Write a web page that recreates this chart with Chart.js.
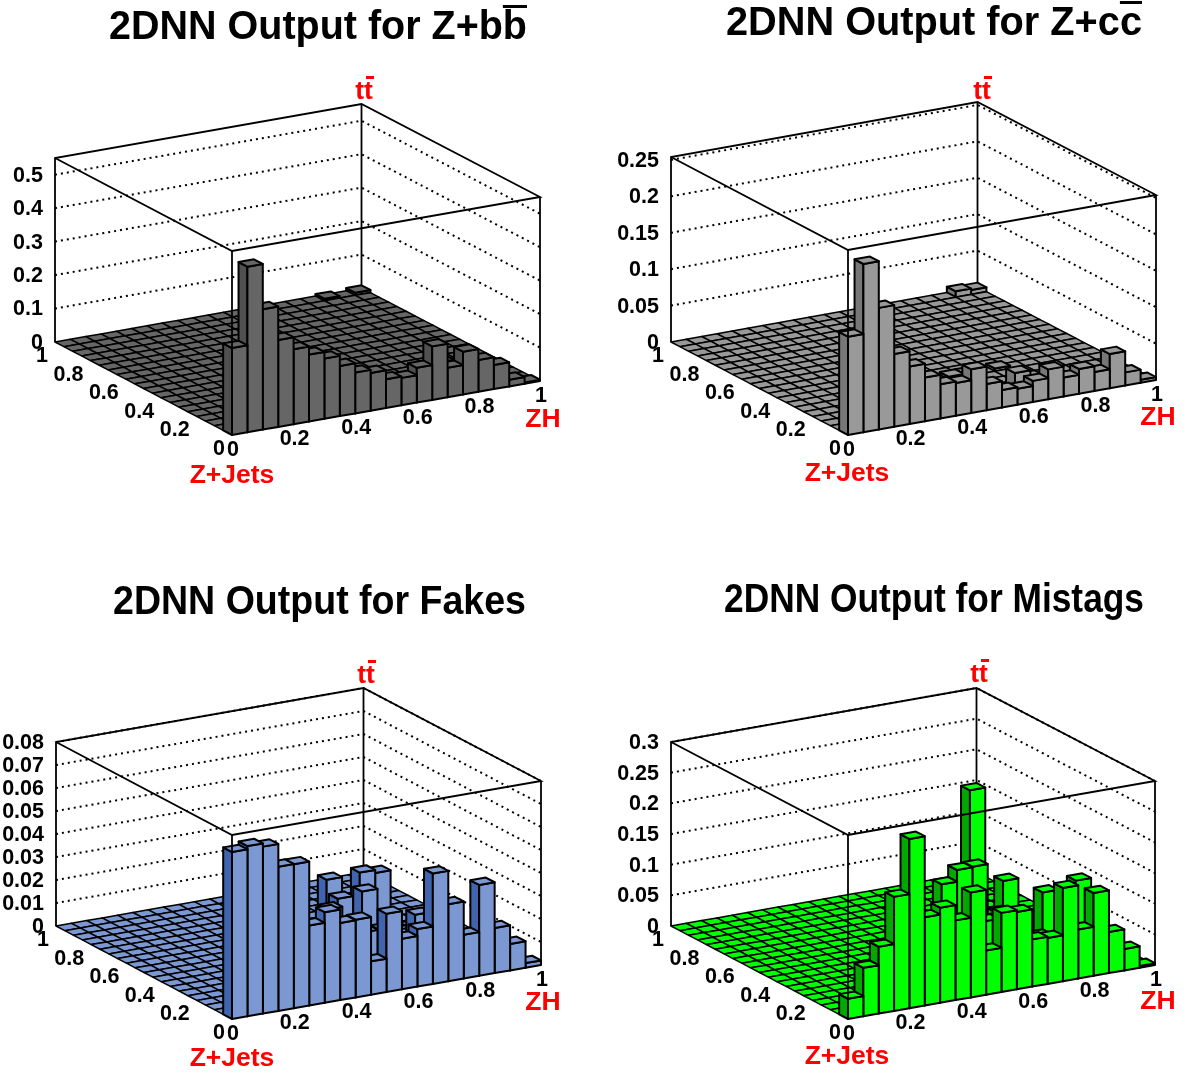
<!DOCTYPE html>
<html>
<head>
<meta charset="utf-8">
<title>2DNN Output</title>
<style>
  html, body { margin: 0; padding: 0; background: #fff; }
  #page { position: relative; width: 1188px; height: 1074px; overflow: hidden; }
  canvas { position: absolute; }
</style>
<script src="https://cdn.jsdelivr.net/npm/chart.js@4"></script>
</head>
<body>
<div id="page">
  <canvas id="bb" width="594" height="537" style="left:0;top:0"></canvas>
  <canvas id="cc" width="594" height="537" style="left:594px;top:0"></canvas>
  <canvas id="fakes" width="594" height="537" style="left:0;top:537px"></canvas>
  <canvas id="mistags" width="594" height="537" style="left:594px;top:537px"></canvas>
</div>
<script>
// tick labels
var xyTicks = [0, 0.2, 0.4, 0.6, 0.8, 1];
var bbZTicks = [0, 0.1, 0.2, 0.3, 0.4, 0.5];
var ccZTicks = [0, 0.05, 0.1, 0.15, 0.2, 0.25];
var fakesZTicks = [0, 0.01, 0.02, 0.03, 0.04, 0.05, 0.06, 0.07, 0.08];
var mistagsZTicks = [0, 0.05, 0.1, 0.15, 0.2, 0.25, 0.3];

// front row of bins (Z+Jets output = 0..0.05), left to right along ZH
var bbFront = [0.26, 0.495, 0.36, 0.26, 0.224, 0.2, 0.18, 0.15, 0.122, 0.113, 0.086, 0.082, 0.104, 0.16, 0.088, 0.128, 0.095, 0.072, 0.02, 0.004];
var ccFront = [0.135, 0.231, 0.167, 0.1, 0.079, 0.06, 0.047, 0.045, 0.06, 0.036, 0.024, 0.022, 0.029, 0.041, 0.026, 0.034, 0.026, 0.047, 0.018, 0.004];
var fakesFront = [0.0726, 0.074, 0.0726, 0.0627, 0.0626, 0.0348, 0.0394, 0.0335, 0.0338, 0.0145, 0.034, 0.022, 0.025, 0.048, 0.0335, 0.019, 0.0395, 0.0196, 0.0115, 0.002];
var mistagsFront = [0.033, 0.079, 0.109, 0.186, 0.276, 0.144, 0.155, 0.13, 0.171, 0.072, 0.129, 0.126, 0.077, 0.075, 0.152, 0.08, 0.135, 0.067, 0.035, 0.003];

// other filled bins as [ZH bin, Z+Jets bin, height]
var bbBack = [[14, 1, 0.09], [19, 19, 0.008], [17, 19, 0.006]];
var ccBack = [[12, 2, 0.027], [18, 19, 0.008], [19, 19, 0.006], [10, 6, 0.004], [11, 6, 0.004], [13, 6, 0.004]];
var fakesBack = [[13, 12, 0.021], [14, 10, 0.027], [15, 10, 0.0257], [13, 8, 0.024], [12, 9, 0.02], [9, 5, 0.027], [13, 2, 0.026],
  [10, 6, 0.012], [11, 6, 0.01], [11, 4, 0.016], [12, 5, 0.014], [10, 3, 0.02], [6, 3, 0.012], [7, 4, 0.014], [8, 5, 0.012], [7, 2, 0.02],
  [9, 2, 0.012], [10, 8, 0.009], [14, 7, 0.008], [15, 7, 0.006], [16, 8, 0.005], [14, 5, 0.01], [15, 5, 0.007], [11, 8, 0.012], [5, 1, 0.02],
  [6, 1, 0.018], [8, 2, 0.02], [9, 1, 0.025]];
var mistagsBack = [[12, 7, 0.267], [11, 5, 0.162], [10, 5, 0.161], [9, 5, 0.142], [13, 5, 0.13], [15, 4, 0.11], [16, 2, 0.14],
  [10, 2, 0.1], [11, 3, 0.09], [12, 4, 0.09], [9, 2, 0.09], [7, 2, 0.1], [6, 3, 0.1], [8, 3, 0.08], [13, 3, 0.05], [14, 3, 0.05], [12, 2, 0.06],
  [13, 7, 0.03], [14, 7, 0.02], [12, 9, 0.02], [11, 8, 0.03], [10, 8, 0.03]];

var nBins = 20;

var makeHeights = function (front, back) {
  var heights = [];
  for (var j = 0; j < nBins; j++) {
    var row = [];
    for (var i = 0; i < nBins; i++) {
      row.push(j === 0 ? front[i] : 0);
    }
    heights.push(row);
  }
  back.forEach(function (b) { heights[b[1]][b[0]] = b[2]; });
  return heights;
};

// pixel size of the box inside each canvas, top and side colours
var panels = [
  { id: "bb", title: "2DNN Output for Z+bb", titleX: 109, titleY: 39, titleW: 418, heights: makeHeights(bbFront, bbBack), zTicks: bbZTicks, zMax: 0.55,
    origin: [232, 435], ex: [308, -54], ey: [-177, -93], ez: 184, light: "#666666", dark: "#505050", tt: [364, 99], jets: [232, 483], zh: [543, 427] },
  { id: "cc", title: "2DNN Output for Z+cc", titleX: 132, titleY: 35, titleW: 416, heights: makeHeights(ccFront, ccBack), zTicks: ccZTicks, zMax: 0.254,
    origin: [254, 435], ex: [308, -55], ey: [-177, -93], ez: 185, light: "#999999", dark: "#777777", tt: [388, 99], jets: [253, 481], zh: [564, 425] },
  { id: "fakes", title: "2DNN Output for Fakes", titleX: 113, titleY: 77, titleW: 413, heights: makeHeights(fakesFront, fakesBack), zTicks: fakesZTicks, zMax: 0.08,
    origin: [232, 482], ex: [309, -54], ey: [-176, -93], ez: 184, light: "#7b98d3", dark: "#4064ad", tt: [366, 146], jets: [232, 529], zh: [543, 473] },
  { id: "mistags", title: "2DNN Output for Mistags", titleX: 130, titleY: 75, titleW: 420, heights: makeHeights(mistagsFront, mistagsBack), zTicks: mistagsZTicks, zMax: 0.3,
    origin: [254, 482], ex: [307, -54], ey: [-177, -93], ez: 184, light: "#00ff00", dark: "#00a800", tt: [385, 145], jets: [253, 527], zh: [564, 472] }
];

// the original view has a slight perspective: the far corner sits a little to the left
var project = function (p, u, v, z) {
  return {
    x: p.origin[0] + u * p.ex[0] + v * p.ey[0] - 1.5 * u * v,
    y: p.origin[1] + u * p.ex[1] + v * p.ey[1] - z / p.zMax * p.ez
  };
};

var polygon = function (p, corners, color, width) {
  var pts = corners.map(function (c) { return project(p, c[0], c[1], c[2]); });
  pts.push(pts[0]);
  return { data: pts, showLine: true, fill: "shape", backgroundColor: color, borderColor: "#000", borderWidth: width, pointRadius: 0, borderJoinStyle: "round" };
};

var line = function (p, corners, dash, width) {
  return {
    data: corners.map(function (c) { return project(p, c[0], c[1], c[2]); }),
    showLine: true, fill: false, borderColor: "#000", borderWidth: width || 1.8, pointRadius: 0, borderDash: dash || []
  };
};

var buildDatasets = function (p) {
  var list = [];
  var top = p.zMax;
  // dotted grid on the two back walls
  p.zTicks.forEach(function (z) {
    if (z > 0) list.push(line(p, [[0, 1, z], [1, 1, z], [1, 0, z]], [2, 4], 2));
  });
  list.push(line(p, [[1, 1, 0], [1, 1, top]]));
  // bars, far corner first so the nearer ones cover them
  var w = 1 / nBins;
  for (var j = nBins - 1; j >= 0; j--) {
    for (var i = nBins - 1; i >= 0; i--) {
      var h = p.heights[j][i];
      var u0 = i * w, u1 = (i + 1) * w, v0 = j * w, v1 = (j + 1) * w;
      if (h > 0) {
        list.push(polygon(p, [[u0, v0, 0], [u0, v1, 0], [u0, v1, h], [u0, v0, h]], p.dark, 2));
        list.push(polygon(p, [[u0, v0, 0], [u1, v0, 0], [u1, v0, h], [u0, v0, h]], p.light, 2));
      }
      list.push(polygon(p, [[u0, v0, h], [u1, v0, h], [u1, v1, h], [u0, v1, h]], p.light, h > 0 ? 2 : 1.5));
    }
  }
  // box edges in front
  list.push(line(p, [[0, 1, 0], [0, 1, top], [1, 1, top], [1, 0, top], [0, 0, top], [0, 1, top]]));
  list.push(line(p, [[0, 0, 0], [0, 0, top]]));
  list.push(line(p, [[1, 0, 0], [1, 0, top]]));
  // Chart.js paints the first dataset last
  return list.reverse();
};

var labelsPlugin = {
  id: "legoLabels",
  afterDraw: function (chart) {
    var p = chart.options.plugins.legoLabels.panel;
    var ctx = chart.ctx;
    var sx = chart.scales.x, sy = chart.scales.y;
    var px = function (q) { return { x: sx.getPixelForValue(q.x), y: sy.getPixelForValue(q.y) }; };
    ctx.save();
    ctx.fillStyle = "#000";

    // title, with the bar over the last letter for the bb and cc samples
    ctx.font = "bold 40px 'Liberation Sans'";
    ctx.textAlign = "left";
    ctx.textBaseline = "alphabetic";
    ctx.fillText(p.title, p.titleX, p.titleY, p.titleW);
    if (p.id === "bb" || p.id === "cc") {
      var last = ctx.measureText(p.title.slice(-1)).width * p.titleW / ctx.measureText(p.title).width;
      ctx.fillRect(p.titleX + p.titleW - last, p.titleY - 34, last, 3);
    }

    ctx.font = "bold 21.5px 'Liberation Sans'";
    ctx.textBaseline = "middle";
    ctx.textAlign = "center";
    xyTicks.forEach(function (t) {
      var q = px(project(p, t, 0, 0));
      ctx.fillText(String(t), q.x + 1, q.y + 15);
    });
    ctx.textAlign = "right";
    xyTicks.forEach(function (t) {
      var q = px(project(p, 0, t, 0));
      ctx.fillText(String(t), q.x - 7, q.y + 14);
    });
    p.zTicks.forEach(function (t) {
      var q = px(project(p, 0, 1, t));
      ctx.fillText(String(t), q.x - 12, q.y + 1);
    });

    // red axis names
    ctx.fillStyle = "#ff0000";
    ctx.font = "bold 26.5px 'Liberation Sans'";
    ctx.textBaseline = "alphabetic";
    ctx.textAlign = "center";
    ctx.fillText("Z+Jets", p.jets[0], p.jets[1]);
    ctx.fillText("ZH", p.zh[0], p.zh[1]);
    ctx.fillText("tt", p.tt[0], p.tt[1]);
    ctx.fillRect(p.tt[0] + 2, p.tt[1] - 23, 8, 3);
    ctx.restore();
  }
};

panels.forEach(function (p) {
  new Chart(document.getElementById(p.id), {
    type: "scatter",
    data: { datasets: buildDatasets(p) },
    plugins: [labelsPlugin],
    options: {
      responsive: false,
      animation: false,
      events: [],
      parsing: false,
      layout: { padding: 0 },
      scales: {
        x: { type: "linear", min: 0, max: 594, display: false },
        y: { type: "linear", min: 0, max: 537, reverse: true, display: false }
      },
      plugins: {
        legend: { display: false },
        tooltip: { enabled: false },
        legoLabels: { panel: p }
      }
    }
  });
});
</script>
</body>
</html>
